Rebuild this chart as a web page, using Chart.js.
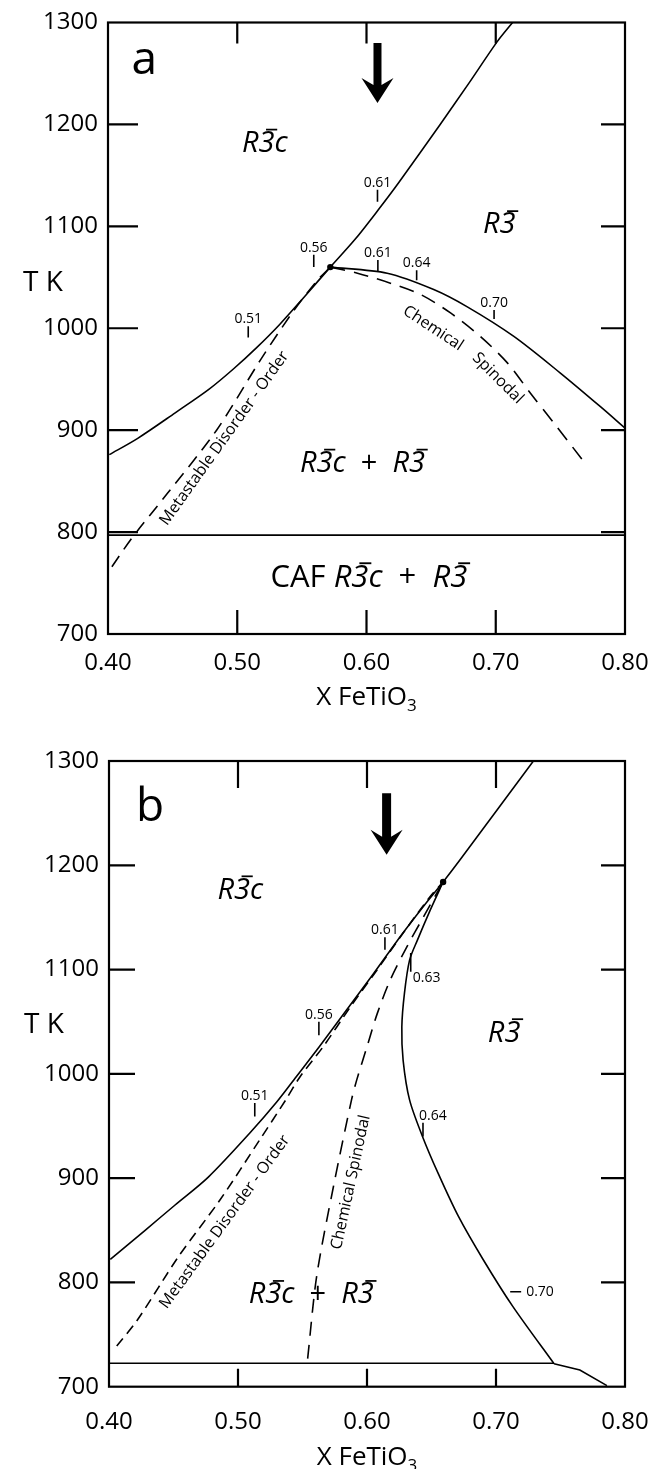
<!DOCTYPE html>
<html>
<head>
<meta charset="utf-8">
<script src="https://cdn.jsdelivr.net/npm/chart.js@4.4.1/dist/chart.umd.min.js"></script>
<style>
  html, body { margin: 0; padding: 0; background: #fff; }
  #wrap { position: relative; width: 651px; height: 1469px; }
  canvas { position: absolute; left: 0; }
  #panelA { top: 0; }
  #panelB { top: 720px; }
</style>
</head>
<body>
<div id="wrap">
  <canvas id="panelA" width="651" height="720"></canvas>
  <canvas id="panelB" width="651" height="749"></canvas>
</div>
<script>
// axes
const xTickVals = [0.40, 0.50, 0.60, 0.70, 0.80];
const xTickLabels = ['0.40', '0.50', '0.60', '0.70', '0.80'];
const yTickVals = [700, 800, 900, 1000, 1100, 1200, 1300];
const yTickLabels = ['700', '800', '900', '1000', '1100', '1200', '1300'];

// panel a - curves (X FeTiO3, T K)
const aBoundX = [0.401, 0.423, 0.452, 0.478, 0.497, 0.515, 0.533, 0.552, 0.572, 0.591, 0.609, 0.625, 0.657, 0.679, 0.701, 0.713];
const aBoundT = [876, 892, 917, 940, 960, 981, 1004, 1031, 1060, 1087, 1116, 1143, 1200, 1240, 1281, 1300];
const aSolvX = [0.572, 0.616, 0.652, 0.678, 0.714, 0.750, 0.781, 0.800];
const aSolvT = [1060, 1054, 1038, 1021, 992, 956, 923, 902];
const aOrderX = [0.403, 0.419, 0.446, 0.484, 0.518, 0.543, 0.562, 0.572];
const aOrderT = [766, 795, 838, 900, 969, 1016, 1047, 1060];
const aSpinX = [0.572, 0.593, 0.619, 0.642, 0.665, 0.688, 0.709, 0.727, 0.745, 0.767];
const aSpinT = [1060, 1054, 1044, 1033, 1015, 992, 966, 936, 907, 871];
const aIsoX = [0.40, 0.80];
const aIsoT = [797, 797];
const aCritX = [0.572];
const aCritT = [1060];

// panel a - composition marks
const aMarkX1 = [0.5085, 0.5592, 0.6085, 0.6088, 0.6388, 0.6987];
const aMarkT1 = [991, 1060, 1124, 1056, 1047, 1009];
const aMarkX2 = [0.5085, 0.5592, 0.6085, 0.6088, 0.6388, 0.6987];
const aMarkT2 = [1002, 1072, 1136, 1067, 1057, 1018];
const aMarkText = ['0.51', '0.56', '0.61', '0.61', '0.64', '0.70'];

// panel a - arrow and labels
const aArrowX = 0.6085, aArrowTop = 1280, aArrowTip = 1221;
const aRegionText = ['*R3\u0304c*', '*R3\u0304*', '*R3\u0304c*  +  *R3\u0304*', 'CAF *R3\u0304c*  +  *R3\u0304*'];
const aRegionX = [0.5213, 0.7027, 0.5969, 0.6018];
const aRegionT = [1173, 1093, 859, 746];
const aCurveText = ['Metastable Disorder - Order', 'Chemical', 'Spinodal'];
const aCurveX = [0.490, 0.6515, 0.7016];
const aCurveT = [892, 1000, 951];

// panel b - curves
const bBoundX = [0.401, 0.428, 0.451, 0.477, 0.509, 0.530, 0.545, 0.563, 0.584, 0.605, 0.626, 0.644, 0.659, 0.672, 0.729];
const bBoundT = [822, 850, 874, 901, 943, 973, 997, 1026, 1061, 1096, 1132, 1161, 1184, 1205, 1300];
const bSolvX = [0.659, 0.649, 0.639, 0.633, 0.629, 0.627, 0.628, 0.633, 0.643, 0.655, 0.671, 0.690, 0.713, 0.745];
const bSolvT = [1184, 1157, 1128, 1109, 1077, 1045, 1013, 975, 940, 905, 863, 822, 777, 722];
const bTailX = [0.745, 0.765, 0.786];
const bTailT = [722, 716, 701];
const bOrderX = [0.406, 0.422, 0.454, 0.486, 0.517, 0.537, 0.548, 0.566, 0.587, 0.608, 0.628, 0.649, 0.659];
const bOrderT = [739, 764, 825, 879, 937, 975, 997, 1026, 1064, 1100, 1135, 1170, 1184];
const bSpinX = [0.554, 0.561, 0.574, 0.588, 0.592, 0.600, 0.608, 0.618, 0.631, 0.644, 0.654, 0.659];
const bSpinT = [727, 806, 892, 975, 994, 1026, 1058, 1090, 1122, 1151, 1173, 1184];
const bIsoX = [0.40, 0.745];
const bIsoT = [722.5, 722.5];
const bCritX = [0.659];
const bCritT = [1184];

// panel b - composition marks
const bMarkX1 = [0.513, 0.5627, 0.6139, 0.6339, 0.6434, 0.711];
const bMarkT1 = [959, 1037, 1119, 1098, 940, 791];
const bMarkX2 = [0.513, 0.5627, 0.6139, 0.6339, 0.6434, 0.7195];
const bMarkT2 = [972, 1050, 1131, 1116, 953, 791];
const bMarkText = ['0.51', '0.56', '0.61', '0.63', '0.64', '0.70'];

// panel b - arrow and labels
const bArrowX = 0.6152, bArrowTop = 1269, bArrowTip = 1210;
const bRegionText = ['*R3\u0304c*', '*R3\u0304*', '*R3\u0304c*  +  *R3\u0304*'];
const bRegionX = [0.5018, 0.7063, 0.5568];
const bRegionT = [1168, 1031, 780];
const bCurveText = ['Metastable Disorder - Order', 'Chemical Spinodal'];
const bCurveX = [0.4897, 0.5875];
const bCurveT = [858, 896];

const FONT = '"Open Sans", sans-serif';
const BAR = '\u0304';
Chart.defaults.font.family = FONT;
Chart.defaults.color = '#000';

function pts(xs, ts) {
  return xs.map((v, i) => ({ x: v, y: ts[i] }));
}

function curve(xs, ts, dash, tension) {
  return {
    data: pts(xs, ts), showLine: true, borderColor: '#000', borderWidth: 1.6,
    borderDash: dash || [], pointRadius: 0, tension: tension === undefined ? 0.3 : tension, fill: false
  };
}

function marks(x1, t1, x2, t2) {
  return x1.map((v, i) => ({
    data: [{ x: v, y: t1[i] }, { x: x2[i], y: t2[i] }],
    showLine: true, borderColor: '#000', borderWidth: 1.6, pointRadius: 0, tension: 0
  }));
}

function dot(xs, ts) {
  return { data: pts(xs, ts), pointRadius: 3.2, pointBackgroundColor: '#000', pointBorderWidth: 0, showLine: false };
}

// width of a run, skipping the combining macron
function runWidth(ctx, s) {
  let w = 0;
  for (const ch of s) if (ch !== BAR) w += ctx.measureText(ch).width;
  return w;
}

// draws a run char by char, puts a bar over a char followed by the macron
function drawRun(ctx, s, x, y, size, italic) {
  let pos = x;
  for (let i = 0; i < s.length; i++) {
    const ch = s[i];
    if (ch === BAR) continue;
    const w = ctx.measureText(ch).width;
    ctx.fillText(ch, pos, y);
    if (s[i + 1] === BAR) {
      const skew = italic ? size * 0.16 : 0;
      ctx.fillRect(pos + w * 0.18 + skew, y - size * 0.8, w * 0.7, Math.max(1.6, size * 0.06));
    }
    pos += w;
  }
}

// mixed italic / upright text, '*' toggles italic
function richText(ctx, str, cx, y, size) {
  const parts = str.split('*');
  const fonts = parts.map((p, i) => (i % 2 ? 'italic ' : '') + size + 'px ' + FONT);
  let total = 0;
  const widths = parts.map((p, i) => { ctx.font = fonts[i]; const w = runWidth(ctx, p); total += w; return w; });
  let x = cx - total / 2;
  ctx.textAlign = 'left';
  ctx.textBaseline = 'alphabetic';
  parts.forEach((p, i) => { ctx.font = fonts[i]; drawRun(ctx, p, x, y, size, i % 2 === 1); x += widths[i]; });
}

const decor = {
  id: 'decor',
  afterDatasetsDraw(chart, args, o) {
    const { ctx, chartArea: a } = chart;
    const sx = chart.scales.x, sy = chart.scales.y;
    const px = v => sx.getPixelForValue(v);
    const py = v => sy.getPixelForValue(v);
    ctx.save();
    ctx.fillStyle = '#000';
    ctx.strokeStyle = '#000';

    // frame and inward ticks
    ctx.lineWidth = 2.2;
    ctx.strokeRect(a.left, a.top, a.right - a.left, a.bottom - a.top);
    ctx.beginPath();
    sx.ticks.forEach(t => {
      if (t.value <= sx.min || t.value >= sx.max) return;
      const x = px(t.value);
      ctx.moveTo(x, a.top); ctx.lineTo(x, a.top + o.tick.top);
      ctx.moveTo(x, a.bottom); ctx.lineTo(x, a.bottom - o.tick.bottom);
    });
    sy.ticks.forEach(t => {
      if (t.value <= sy.min || t.value >= sy.max) return;
      const y = py(t.value);
      ctx.moveTo(a.left, y); ctx.lineTo(a.left + o.tick.left, y);
      ctx.moveTo(a.right, y); ctx.lineTo(a.right - o.tick.right, y);
    });
    ctx.stroke();

    // arrow
    const ax = px(o.arrow.x), top = py(o.arrow.top), tip = py(o.arrow.tip);
    const sw = o.arrow.shaft / 2, hw = 16, hl = 25, notch = 7;
    ctx.beginPath();
    ctx.moveTo(ax - sw, top);
    ctx.lineTo(ax + sw, top);
    ctx.lineTo(ax + sw, tip - hl + notch);
    ctx.lineTo(ax + hw, tip - hl);
    ctx.lineTo(ax, tip);
    ctx.lineTo(ax - hw, tip - hl);
    ctx.lineTo(ax - sw, tip - hl + notch);
    ctx.closePath();
    ctx.fill();

    // panel letter
    ctx.font = '46px ' + FONT;
    ctx.textAlign = 'center';
    ctx.textBaseline = 'alphabetic';
    ctx.fillText(o.letter.text, px(o.letter.x), py(o.letter.t));

    // T K
    ctx.font = '28px ' + FONT;
    ctx.fillText('T K', a.left - 65, py(o.tkT));

    // X FeTiO3
    ctx.font = '26px ' + FONT;
    const main = 'X FeTiO';
    const mw = ctx.measureText(main).width;
    ctx.font = '17px ' + FONT;
    const subw = ctx.measureText('3').width;
    const tx = (a.left + a.right) / 2 - (mw + subw) / 2;
    const ty = a.bottom + o.titleDrop;
    ctx.textAlign = 'left';
    ctx.font = '26px ' + FONT;
    ctx.fillText(main, tx, ty);
    ctx.font = '17px ' + FONT;
    ctx.fillText('3', tx + mw, ty + 6);

    // phase field labels
    o.regions.text.forEach((s, i) => {
      richText(ctx, s, px(o.regions.x[i]), py(o.regions.t[i]), o.regions.size[i]);
    });

    // labels along curves
    ctx.font = '16px ' + FONT;
    ctx.textAlign = 'center';
    ctx.textBaseline = 'middle';
    o.curveText.text.forEach((s, i) => {
      ctx.save();
      ctx.translate(px(o.curveText.x[i]), py(o.curveText.t[i]));
      ctx.rotate(o.curveText.angle[i] * Math.PI / 180);
      ctx.fillText(s, 0, 0);
      ctx.restore();
    });

    // composition mark labels
    ctx.font = '14px ' + FONT;
    o.marks.text.forEach((s, i) => {
      const x1 = px(o.marks.x1[i]), x2 = px(o.marks.x2[i]);
      const yTop = Math.min(py(o.marks.t1[i]), py(o.marks.t2[i]));
      const yBot = Math.max(py(o.marks.t1[i]), py(o.marks.t2[i]));
      const place = o.marks.place[i];
      ctx.textBaseline = 'alphabetic';
      if (place === 'above') {
        ctx.textAlign = 'center';
        ctx.fillText(s, x1, yTop - 3);
      } else if (place === 'aboveRight') {
        ctx.textAlign = 'left';
        ctx.fillText(s, x1 - 4, yTop - 3);
      } else if (place === 'belowRight') {
        ctx.textAlign = 'left';
        ctx.fillText(s, x1 + 2, yBot + 10);
      } else {
        ctx.textAlign = 'left';
        ctx.textBaseline = 'middle';
        ctx.fillText(s, x2 + 5, yTop);
      }
    });
    ctx.restore();
  }
};

function buildPanel(id, st, datasets, notes) {
  const cv = document.getElementById(id);
  return new Chart(cv, {
    type: 'scatter',
    data: { datasets: datasets },
    options: {
      responsive: false,
      animation: false,
      events: [],
      layout: { padding: { top: st.top, right: cv.width - st.right, left: 0, bottom: 0 } },
      scales: {
        x: {
          type: 'linear', min: 0.4, max: 0.8,
          afterBuildTicks: s => { s.ticks = xTickVals.map(v => ({ value: v })); },
          afterFit: s => {
            s.height = cv.height - st.bottom;
            // the end labels may hang into the padding, do not shrink the plot for them
            s.paddingLeft = 0;
            s.paddingRight = 0;
          },
          ticks: { callback: (v, i) => xTickLabels[i], font: { size: 24 }, color: '#000', padding: st.xPad, maxRotation: 0, autoSkip: false },
          grid: { display: false, drawTicks: false },
          border: { display: false }
        },
        y: {
          type: 'linear', min: 700, max: 1300,
          afterBuildTicks: s => { s.ticks = yTickVals.map(v => ({ value: v })); },
          afterFit: s => { s.width = st.left; s.paddingTop = 0; s.paddingBottom = 0; },
          ticks: { callback: (v, i) => yTickLabels[i], font: { size: 24 }, color: '#000', padding: 10, autoSkip: false },
          grid: { display: false, drawTicks: false },
          border: { display: false }
        }
      },
      plugins: { legend: { display: false }, tooltip: { enabled: false }, decor: notes }
    },
    plugins: [decor]
  });
}

buildPanel('panelA',
  { top: 22.5, bottom: 634, left: 108, right: 625, xPad: 15 },
  [
    curve(aBoundX, aBoundT),
    curve(aSolvX, aSolvT),
    curve(aOrderX, aOrderT, [13, 8]),
    curve(aSpinX, aSpinT, [15, 9]),
    curve(aIsoX, aIsoT, [], 0),
    ...marks(aMarkX1, aMarkT1, aMarkX2, aMarkT2),
    dot(aCritX, aCritT)
  ],
  {
    tick: { left: 30, right: 24, top: 21, bottom: 24 },
    arrow: { x: aArrowX, top: aArrowTop, tip: aArrowTip, shaft: 8 },
    letter: { text: 'a', x: 0.428, t: 1249 },
    tkT: 1037,
    titleDrop: 71,
    regions: { text: aRegionText, x: aRegionX, t: aRegionT, size: [29, 29, 29, 31] },
    curveText: { text: aCurveText, x: aCurveX, t: aCurveT, angle: [-54.4, 33.4, 45] },
    marks: { text: aMarkText, x1: aMarkX1, t1: aMarkT1, x2: aMarkX2, t2: aMarkT2,
             place: ['above', 'above', 'above', 'above', 'above', 'above'] }
  });

buildPanel('panelB',
  { top: 41, bottom: 666.7, left: 109, right: 625, xPad: 21 },
  [
    curve(bBoundX, bBoundT),
    curve(bSolvX, bSolvT),
    curve(bTailX, bTailT, [], 0),
    curve(bOrderX, bOrderT, [10, 6]),
    curve(bSpinX, bSpinT, [14, 9]),
    curve(bIsoX, bIsoT, [], 0),
    ...marks(bMarkX1, bMarkT1, bMarkX2, bMarkT2),
    dot(bCritX, bCritT)
  ],
  {
    tick: { left: 26, right: 24, top: 27, bottom: 18 },
    arrow: { x: bArrowX, top: bArrowTop, tip: bArrowTip, shaft: 9 },
    letter: { text: 'b', x: 0.4318, t: 1242 },
    tkT: 1039,
    titleDrop: 78,
    regions: { text: bRegionText, x: bRegionX, t: bRegionT, size: [29, 29, 29] },
    curveText: { text: bCurveText, x: bCurveX, t: bCurveT, angle: [-54, -77.8] },
    marks: { text: bMarkText, x1: bMarkX1, t1: bMarkT1, x2: bMarkX2, t2: bMarkT2,
             place: ['above', 'above', 'above', 'belowRight', 'aboveRight', 'right'] }
  });
</script>
</body>
</html>
